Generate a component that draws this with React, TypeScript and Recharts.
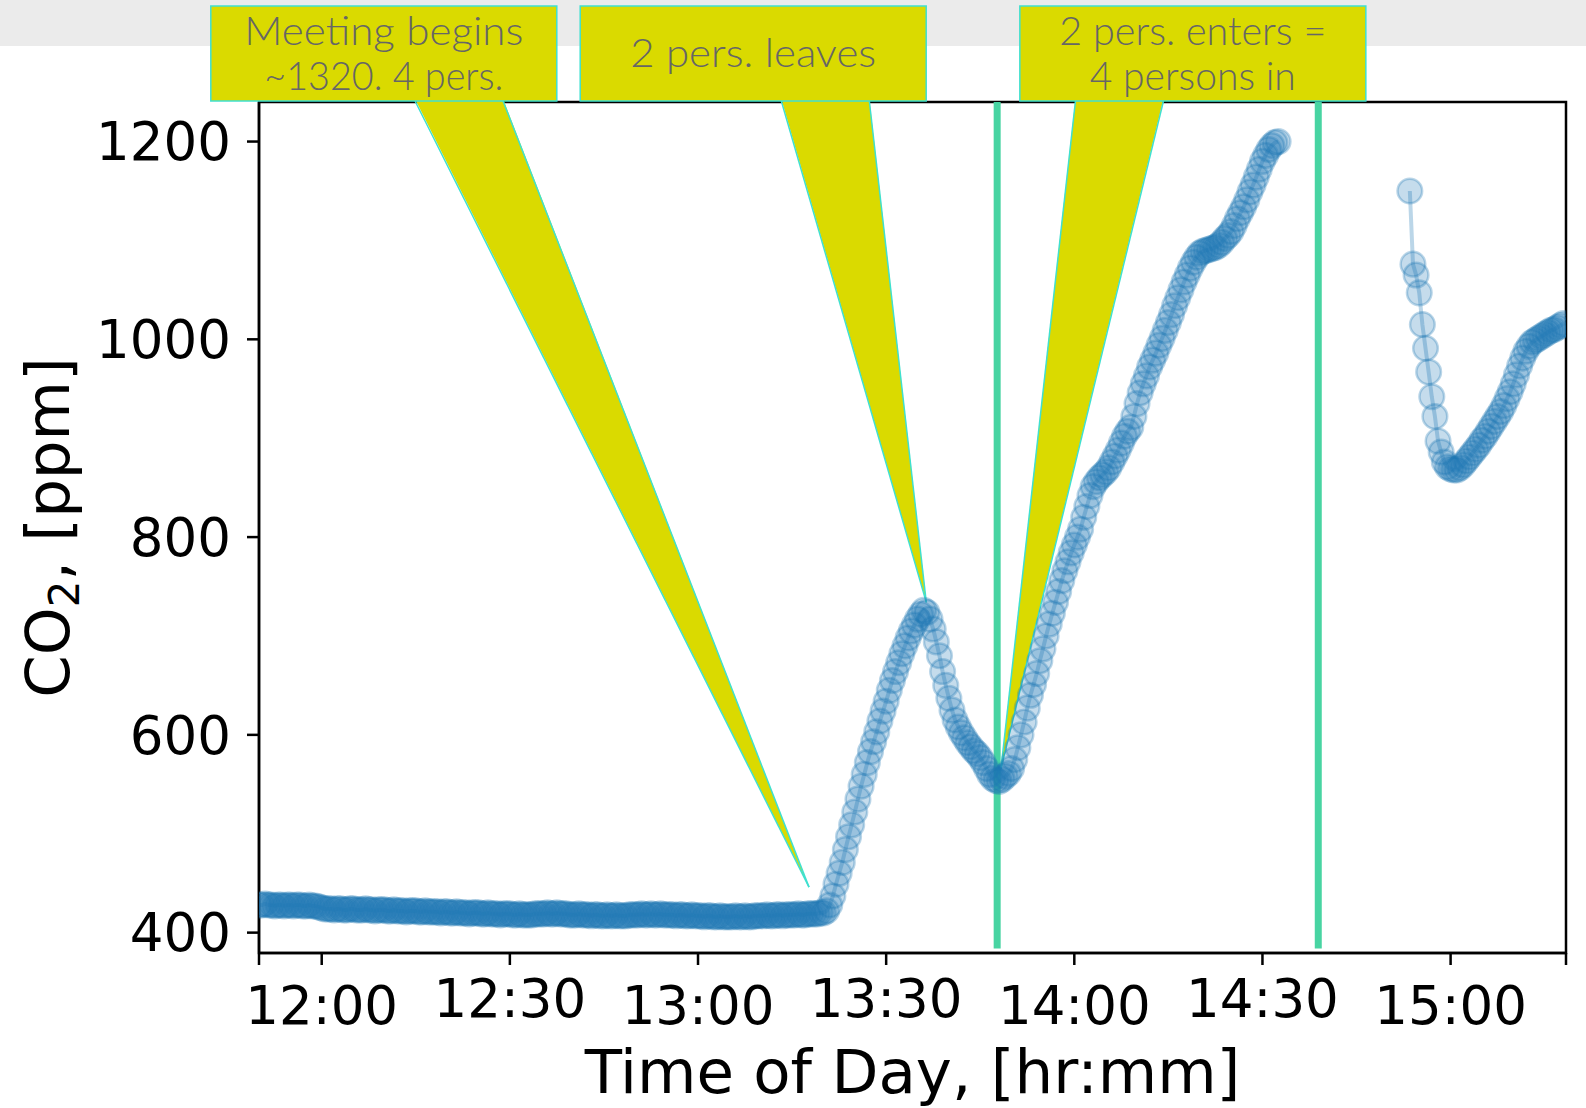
import React from "react";
import {
	LineChart,
	Line,
	XAxis,
	YAxis,
	ReferenceLine,
	ReferenceArea,
	ReferenceDot,
} from "recharts";

// CO2 readings [ppm], one every 30 s. Times are minutes after midnight.
const seg1Start = 710; // 11:50
const seg1Values = [
	428, 428, 429, 428, 428, 427, 428, 428, 427, 428,
	428, 427, 428, 428, 427, 427, 428, 427, 427, 426,
	425, 424, 424, 424, 423, 424, 424, 423, 423, 424,
	424, 423, 423, 423, 424, 423, 423, 422, 423, 423,
	423, 422, 422, 423, 422, 422, 422, 421, 422, 422,
	422, 421, 421, 422, 421, 421, 421, 421, 420, 421,
	421, 420, 420, 421, 420, 420, 420, 419, 420, 420,
	420, 419, 419, 420, 419, 419, 419, 418, 419, 419,
	419, 418, 418, 419, 418, 418, 418, 418, 419, 419,
	419, 419, 420, 419, 419, 420, 419, 419, 419, 418,
	418, 418, 419, 418, 418, 418, 417, 418, 418, 417,
	417, 418, 417, 417, 418, 417, 417, 417, 418, 418,
	418, 418, 419, 418, 418, 419, 418, 418, 419, 418,
	418, 418, 418, 417, 418, 418, 417, 417, 418, 417,
	417, 417, 416, 417, 417, 416, 416, 417, 416, 416,
	416, 416, 417, 416, 416, 417, 416, 416, 417, 417,
	417, 417, 418, 417, 417, 418, 418, 417, 418, 418,
	418, 418, 419, 418, 418, 419, 419, 419, 419, 420,
	420, 422, 428, 437, 449, 460, 471, 484, 497, 509,
	522, 535, 548, 560, 572, 583, 593, 603, 614, 624,
	634, 645, 655, 664, 673, 682, 690, 698, 705, 711,
	717, 722, 726, 724, 717, 707, 694, 680, 664, 650,
	637, 625, 615, 608, 602, 597, 592, 588, 584, 581,
	577, 572, 566, 560, 556, 554, 553, 555, 558, 561,
	566, 575, 587, 600, 613, 627, 640, 651, 662, 675,
	687, 700, 712, 723, 734, 745, 756, 766, 775, 784,
	792, 800, 808, 820, 831, 842, 851, 856, 860, 863,
	866, 870, 876, 882, 888, 895, 902, 907, 911, 922,
	935, 946, 955, 963, 972, 979, 986, 994, 1001, 1009,
	1017, 1025, 1034, 1042, 1050, 1058, 1065, 1072, 1078, 1083,
	1087, 1089, 1090, 1091, 1092, 1093, 1095, 1098, 1102, 1105,
	1109, 1115, 1122, 1128, 1134, 1141, 1149, 1156, 1164, 1172,
	1180, 1186, 1192, 1196, 1199, 1200,
];

const seg2Start = 893.5; // 14:53:30
const seg2Values = [
	1150, 1076, 1065, 1047, 1015, 991, 967, 942, 922, 897,
	886, 876, 871, 869, 868, 868, 870, 873, 877, 881,
	885, 889, 893, 898, 902, 907, 912, 917, 922, 927,
	933, 940, 947, 955, 964, 973, 981, 988, 993, 997,
	999, 1001, 1003, 1005, 1007, 1009, 1010, 1012, 1014, 1016,
];
const sampleStep = 0.5;

const xDomain = [710, 918.4];
const yDomain = [379.4, 1240];
const xTicks = [710, 720, 750, 780, 810, 840, 870, 900, 918.4];
const yTicks = [400, 600, 800, 1000, 1200];

// door events (vertical lines)
const eventTimes = [827.7, 878.9];

// callouts
const noteTexts = [
	["Meeting begins", "~1320. 4 pers."],
	["2 pers. leaves"],
	["2 pers. enters =", "4 persons in"],
];
const noteBoxTimes = [729.9, 788.8, 858.9];
const noteBaseTimes = [741.9, 800.3, 847.2];
const noteTipTimes = [797.7, 816.4, 828.3];
const noteTipValues = [446, 734, 565.5];

const textWidths = [[279, 239], [246], [267, 206]];

const BLUE = "#1f77b4";
const YELLOW = "#dada00";
const CYAN = "#3fe0d0";
const GREEN = "#48d4a2";

const seg1 = seg1Values.map((co2, i) => ({ t: seg1Start + i * sampleStep, co2 }));
const seg2 = seg2Values.map((co2, i) => ({ t: seg2Start + i * sampleStep, co2 }));

const fmtTime = (v: number) => {
	if (v % 30 !== 0) return "";
	const h = Math.floor(v / 60);
	const m = v % 60;
	return `${h}:${m < 10 ? "0" + m : m}`;
};

const dot = (p: any) => (
	<circle
		key={`d-${p.index}`}
		cx={p.cx}
		cy={p.cy}
		r={12.3}
		fill={BLUE}
		fillOpacity={0.26}
		stroke={BLUE}
		strokeOpacity={0.3}
		strokeWidth={2.5}
	/>
);

const TimeTick = (props: any) => {
	const { x, y, payload } = props;
	const label = fmtTime(payload.value);
	if (!label) return null;
	const odd = ((payload.value - 720) / 30) % 2 === 1;
	return (
		<text
			x={x}
			y={y}
			dy={odd ? 51.5 : 59}
			textAnchor="middle"
			fontFamily="DejaVu Sans"
			fontSize={53}
			fill="#000"
		>
			{label}
		</text>
	);
};

const noteBox = (lines: string[], widths: number[]) => (p: any) => {
	const w = 346;
	const h = 95;
	const top = p.cy - 96;
	return (
		<g>
			<rect
				x={p.cx - w / 2}
				y={top}
				width={w}
				height={h}
				fill={YELLOW}
				stroke={CYAN}
				strokeWidth={1.5}
			/>
			{lines.map((s, i) => (
				<text
					key={i}
					x={p.cx}
					y={lines.length === 1 ? top + 61 : top + 38.5 + i * 45.5}
					textAnchor="middle"
					fontFamily="Lato"
					fontWeight={300}
					fontSize={40}
					fill="#666"
					textLength={widths[i]}
					lengthAdjust="spacingAndGlyphs"
				>
					{s}
				</text>
			))}
		</g>
	);
};

const wedge = (p: any) => {
	const hw = 44;
	const { x1, y1, x2, y2 } = p;
	return (
		<g>
			<polygon
				points={`${x1 - hw},${y1 - 3} ${x1 + hw},${y1 - 3} ${x2},${y2}`}
				fill={YELLOW}
			/>
			<line x1={x1 - hw} y1={y1 - 1} x2={x2} y2={y2} stroke={CYAN} strokeWidth={1.5} />
			<line x1={x1 + hw} y1={y1 - 1} x2={x2} y2={y2} stroke={CYAN} strokeWidth={1.5} />
		</g>
	);
};

export default function App() {
	return (
		<div style={{ position: "absolute", left: 0, top: 0, width: 1586, height: 1108, background: "#fff" }}>
			<div style={{ position: "absolute", left: 0, top: 0, width: 1586, height: 46, background: "#ebebeb" }} />
			<LineChart
				width={1586}
				height={1108}
				margin={{ top: 102, right: 20, bottom: 0, left: 0 }}
			>
				<XAxis
					type="number"
					dataKey="t"
					domain={xDomain}
					ticks={xTicks}
					allowDataOverflow
					height={155}
					tickSize={12}
					tickMargin={0}
					interval={0}
					tick={<TimeTick />}
					axisLine={{ stroke: "#000", strokeWidth: 2.5 }}
					tickLine={{ stroke: "#000", strokeWidth: 2.5 }}
					label={{
						content: (lp: any) => {
							const vb = lp.viewBox;
							return (
								<text
									x={vb.x + vb.width / 2}
									y={1093}
									textAnchor="middle"
									fontFamily="DejaVu Sans"
									fontSize={61}
									fill="#000"
								>
									Time of Day, [hr:mm]
								</text>
							);
						},
					}}
				/>
				<YAxis
					type="number"
					domain={yDomain}
					ticks={yTicks}
					allowDataOverflow
					width={259}
					tickSize={12}
					tickMargin={16}
					interval={0}
					tick={{ fontFamily: "DejaVu Sans", fontSize: 53, fill: "#000" }}
					axisLine={{ stroke: "#000", strokeWidth: 2.5 }}
					tickLine={{ stroke: "#000", strokeWidth: 2.5 }}
					label={{
						content: (lp: any) => {
							const vb = lp.viewBox;
							const cx = 69;
							const cy = vb.y + vb.height / 2;
							return (
								<text
									x={cx}
									y={cy}
									transform={`rotate(-90, ${cx}, ${cy})`}
									textAnchor="middle"
									fontFamily="DejaVu Sans"
									fontSize={61}
									fill="#000"
								>
									CO
									<tspan fontSize={42} dy={10}>2</tspan>
									<tspan dy={-10}>, [ppm]</tspan>
								</text>
							);
						},
					}}
				/>
				<Line
					data={seg1}
					dataKey="co2"
					type="linear"
					stroke={BLUE}
					strokeOpacity={0.3}
					strokeWidth={4}
					dot={dot}
					activeDot={false}
					isAnimationActive={false}
				/>
				<Line
					data={seg2}
					dataKey="co2"
					type="linear"
					stroke={BLUE}
					strokeOpacity={0.3}
					strokeWidth={4}
					dot={dot}
					activeDot={false}
					isAnimationActive={false}
				/>
				<ReferenceArea
					x1={xDomain[0]}
					x2={xDomain[1]}
					y1={yDomain[0]}
					y2={yDomain[1]}
					fill="none"
					fillOpacity={0}
					stroke="#000"
					strokeWidth={2.5}
					ifOverflow="visible"
				/>
				{eventTimes.map((t) => (
					<ReferenceLine
						key={`ev-${t}`}
						segment={[
							{ x: t, y: yDomain[1] },
							{ x: t, y: 384 },
						]}
						stroke={GREEN}
						strokeWidth={7}
						ifOverflow="visible"
					/>
				))}
				{noteTexts.map((lines, i) => (
					<ReferenceDot
						key={`box-${i}`}
						x={noteBoxTimes[i]}
						y={yDomain[1]}
						r={1}
						ifOverflow="visible"
						shape={noteBox(lines, textWidths[i])}
					/>
				))}
				{noteTexts.map((_, i) => (
					<ReferenceLine
						key={`wedge-${i}`}
						segment={[
							{ x: noteBaseTimes[i], y: yDomain[1] },
							{ x: noteTipTimes[i], y: noteTipValues[i] },
						]}
						ifOverflow="visible"
						shape={wedge}
					/>
				))}
			</LineChart>
		</div>
	);
}
